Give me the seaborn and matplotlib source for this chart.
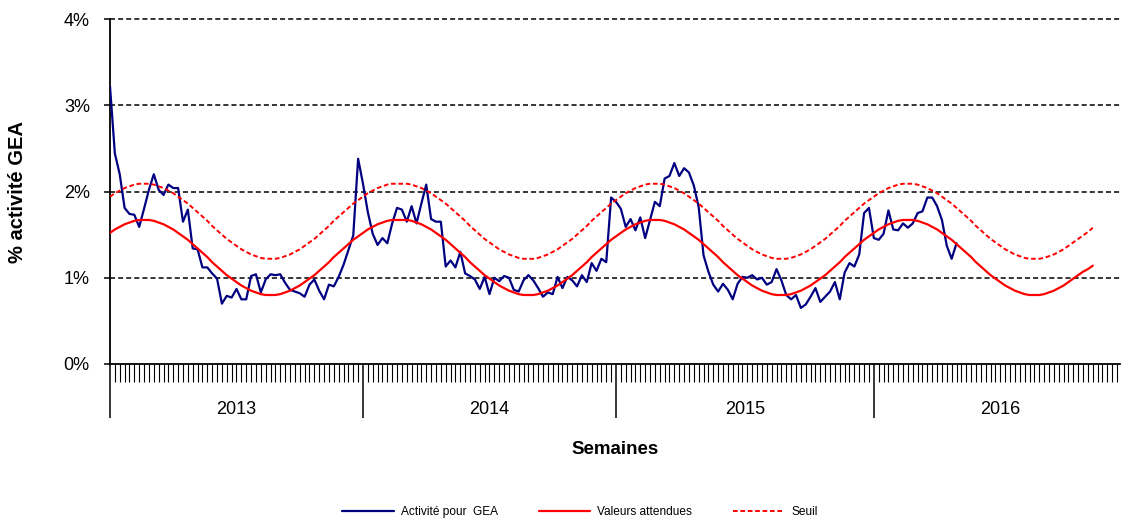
import matplotlib
matplotlib.use("Agg")
import matplotlib.pyplot as plt
import matplotlib.transforms as mtransforms
import numpy as np
import pandas as pd
import seaborn as sns

# weekly data, week index 0 = first week of 2013
years = ["2013", "2014", "2015", "2016"]
year_starts = [0, 52, 104, 157]
year_ends = [52, 104, 157, 209]

activite = [
    3.22, 2.44, 2.20, 1.81, 1.74, 1.73, 1.59, 1.80, 2.02, 2.20,
    2.02, 1.96, 2.08, 2.04, 2.04, 1.65, 1.79, 1.34, 1.33, 1.12,
    1.12, 1.05, 0.99, 0.70, 0.79, 0.77, 0.87, 0.75, 0.75, 1.02,
    1.04, 0.83, 0.98, 1.04, 1.03, 1.04, 0.94, 0.86, 0.84, 0.82,
    0.78, 0.92, 0.98, 0.85, 0.75, 0.92, 0.90, 1.01, 1.15, 1.32,
    1.49, 2.38, 2.09, 1.76, 1.51, 1.38, 1.46, 1.40, 1.63, 1.81,
    1.79, 1.65, 1.83, 1.63, 1.86, 2.08, 1.68, 1.65, 1.65, 1.13,
    1.20, 1.12, 1.30, 1.05, 1.02, 0.98, 0.87, 1.01, 0.81, 1.00,
    0.96, 1.02, 1.00, 0.86, 0.84, 0.97, 1.03, 0.97, 0.88, 0.78,
    0.83, 0.81, 1.01, 0.88, 1.01, 0.97, 0.90, 1.03, 0.95, 1.17,
    1.08, 1.22, 1.18, 1.93, 1.88, 1.80, 1.59, 1.68, 1.55, 1.70,
    1.46, 1.67, 1.88, 1.83, 2.15, 2.18, 2.33, 2.18, 2.27, 2.22,
    2.07, 1.82, 1.26, 1.07, 0.92, 0.84, 0.93, 0.86, 0.75, 0.93,
    1.01, 1.00, 1.03, 0.98, 1.00, 0.92, 0.95, 1.10, 0.97, 0.80,
    0.75, 0.80, 0.65, 0.69, 0.78, 0.88, 0.72, 0.78, 0.84, 0.95,
    0.75, 1.06, 1.17, 1.13, 1.27, 1.75, 1.81, 1.46, 1.44, 1.51,
    1.78, 1.56, 1.55, 1.63, 1.58, 1.63, 1.75, 1.77, 1.93, 1.93,
    1.83, 1.67, 1.37, 1.22, 1.40,
]

attendues = [
    1.52, 1.56, 1.59, 1.62, 1.64, 1.66, 1.67, 1.67,
    1.67, 1.66, 1.64, 1.62, 1.59, 1.56, 1.52, 1.48, 1.44, 1.39, 1.34, 1.29, 1.24,
    1.18, 1.13, 1.08, 1.03, 0.99, 0.95, 0.91, 0.88, 0.85, 0.83, 0.81, 0.80, 0.80,
    0.80, 0.81, 0.83, 0.85, 0.88, 0.91, 0.95, 0.99, 1.03, 1.08, 1.13, 1.18, 1.24,
    1.29, 1.34, 1.39, 1.44, 1.48, 1.52, 1.56, 1.59, 1.62, 1.64, 1.66, 1.67, 1.67,
    1.67,
    1.67, 1.66, 1.64, 1.62, 1.59, 1.56, 1.52, 1.48, 1.44, 1.39, 1.34, 1.29, 1.24,
    1.18, 1.13, 1.08, 1.03, 0.99, 0.95, 0.91, 0.88, 0.85, 0.83, 0.81, 0.80, 0.80,
    0.80, 0.81, 0.83, 0.85, 0.88, 0.91, 0.95, 0.99, 1.03, 1.08, 1.13, 1.18, 1.24,
    1.29, 1.34, 1.39, 1.44, 1.48, 1.52, 1.56, 1.59, 1.62, 1.64, 1.66, 1.67, 1.67,
    1.67, 1.66, 1.64, 1.62, 1.59, 1.56, 1.52, 1.48, 1.44, 1.39, 1.34, 1.29, 1.24,
    1.18, 1.13, 1.08, 1.03, 0.99, 0.95, 0.91, 0.88, 0.85, 0.83, 0.81, 0.80, 0.80,
    0.80, 0.81, 0.83, 0.85, 0.88, 0.91, 0.95, 0.99, 1.03, 1.08, 1.13, 1.18, 1.24,
    1.29, 1.34, 1.39, 1.44, 1.48, 1.52, 1.56, 1.59, 1.62, 1.64, 1.66, 1.67, 1.67,
    1.67, 1.66, 1.64, 1.62, 1.59, 1.56, 1.52, 1.48, 1.44, 1.39, 1.34, 1.29, 1.24,
    1.18, 1.13, 1.08, 1.03, 0.99, 0.95, 0.91, 0.88, 0.85, 0.83, 0.81, 0.80, 0.80,
    0.80, 0.81, 0.83, 0.85, 0.88, 0.91, 0.95, 0.99, 1.03, 1.07, 1.10, 1.14,
]

seuil = [
    1.94, 1.98, 2.01, 2.04, 2.06, 2.08, 2.09, 2.09,
    2.09, 2.08, 2.06, 2.04, 2.01, 1.98, 1.94, 1.90, 1.86, 1.81, 1.76, 1.71, 1.66,
    1.60, 1.55, 1.50, 1.45, 1.41, 1.37, 1.33, 1.30, 1.27, 1.25, 1.23, 1.22, 1.22,
    1.22, 1.23, 1.25, 1.27, 1.30, 1.33, 1.37, 1.41, 1.45, 1.50, 1.55, 1.60, 1.66,
    1.71, 1.76, 1.81, 1.86, 1.90, 1.94, 1.98, 2.01, 2.04, 2.06, 2.08, 2.09, 2.09,
    2.09,
    2.09, 2.08, 2.06, 2.04, 2.01, 1.98, 1.94, 1.90, 1.86, 1.81, 1.76, 1.71, 1.66,
    1.60, 1.55, 1.50, 1.45, 1.41, 1.37, 1.33, 1.30, 1.27, 1.25, 1.23, 1.22, 1.22,
    1.22, 1.23, 1.25, 1.27, 1.30, 1.33, 1.37, 1.41, 1.45, 1.50, 1.55, 1.60, 1.66,
    1.71, 1.76, 1.81, 1.86, 1.90, 1.94, 1.98, 2.01, 2.04, 2.06, 2.08, 2.09, 2.09,
    2.09, 2.08, 2.06, 2.04, 2.01, 1.98, 1.94, 1.90, 1.86, 1.81, 1.76, 1.71, 1.66,
    1.60, 1.55, 1.50, 1.45, 1.41, 1.37, 1.33, 1.30, 1.27, 1.25, 1.23, 1.22, 1.22,
    1.22, 1.23, 1.25, 1.27, 1.30, 1.33, 1.37, 1.41, 1.45, 1.50, 1.55, 1.60, 1.66,
    1.71, 1.76, 1.81, 1.86, 1.90, 1.94, 1.98, 2.01, 2.04, 2.06, 2.08, 2.09, 2.09,
    2.09, 2.08, 2.06, 2.04, 2.01, 1.98, 1.94, 1.90, 1.86, 1.81, 1.76, 1.71, 1.66,
    1.60, 1.55, 1.50, 1.45, 1.41, 1.37, 1.33, 1.30, 1.27, 1.25, 1.23, 1.22, 1.22,
    1.22, 1.23, 1.25, 1.27, 1.30, 1.33, 1.37, 1.41, 1.45, 1.49, 1.53, 1.58,
]

df_act = pd.DataFrame({"semaine": np.arange(len(activite)), "valeur": activite})
df_att = pd.DataFrame({"semaine": np.arange(len(attendues)), "valeur": attendues})
df_seuil = pd.DataFrame({"semaine": np.arange(len(seuil)), "valeur": seuil})

sns.set_style("white")
plt.rcParams['font.family'] = ['Liberation Sans', 'DejaVu Sans']
plt.rcParams['text.color'] = 'black'
plt.rcParams['axes.labelcolor'] = 'black'
plt.rcParams['xtick.color'] = 'black'
plt.rcParams['ytick.color'] = 'black'

fig = plt.figure(figsize=(11.21, 5.19), dpi=100)
ax = fig.add_axes([110 / 1121, 155 / 519, 1010 / 1121, 345 / 519])

# dashed black gridlines
for y in [1, 2, 3, 4]:
    ax.axhline(y, color="black", lw=1.1, ls=(0, (3.3, 2.0)), zorder=1, clip_on=False)

sns.lineplot(data=df_act, x="semaine", y="valeur", ax=ax, color="#000080",
             lw=1.6, label="Activité pour  GEA", zorder=3)
sns.lineplot(data=df_att, x="semaine", y="valeur", ax=ax, color="#FF0000",
             lw=1.6, label="Valeurs attendues", zorder=3)
sns.lineplot(data=df_seuil, x="semaine", y="valeur", ax=ax, color="#FF0000",
             lw=1.4, linestyle=(0, (2.4, 1.4)), label="Seuil", zorder=3)

ax.set_xlim(0, 207.6)
ax.set_ylim(0, 4)
ax.set_xlabel("")
ax.set_ylabel("")

ax.set_yticks([0, 1, 2, 3, 4])
ax.set_yticklabels(["0%", "1%", "2%", "3%", "4%"])
ax.tick_params(axis="y", direction="out", length=4.5, width=1.1, pad=10,
               labelsize=13, left=True, color="black", labelcolor="black")

ax.set_xticks(year_starts)
ax.set_xticklabels([])
ax.set_xticks(np.arange(0, 208), minor=True)
ax.tick_params(axis="x", which="major", direction="out", length=39, width=1.1,
               bottom=True, color="black")
ax.tick_params(axis="x", which="minor", direction="out", length=13, width=0.8,
               bottom=True, color="black")

for side in ["top", "right"]:
    ax.spines[side].set_visible(False)
for side in ["left", "bottom"]:
    ax.spines[side].set_color("black")
    ax.spines[side].set_linewidth(1.3)

trans = mtransforms.blended_transform_factory(ax.transData, ax.transAxes)
for yr, s, e in zip(years, year_starts, year_ends):
    ax.text((s + e) / 2, -0.133, yr, transform=trans, ha="center", va="center",
            fontsize=13, color="black")

fig.text(615 / 1121, 1 - 449 / 519, "Semaines", ha="center", va="center",
         fontsize=13.5, fontweight="bold", color="black")
fig.text(18 / 1121, 1 - 192 / 519, "% activité GEA", ha="center", va="center",
         rotation=90, fontsize=14.5, fontweight="bold", color="black")

handles, labels = ax.get_legend_handles_labels()
ax.get_legend().remove()
leg = fig.legend(handles, labels, loc="center", bbox_to_anchor=(580 / 1121, 7 / 519),
                 ncol=3, frameon=False, fontsize=8.6, handlelength=4.3,
                 handletextpad=0.6, columnspacing=3.4)
for t in leg.get_texts():
    t.set_color("black")

fig.savefig("out.png", dpi=100)
